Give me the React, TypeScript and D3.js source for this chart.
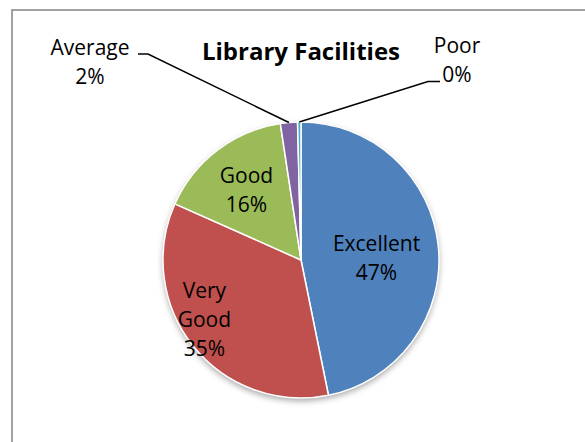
import React from "react";
import * as d3 from "d3";

const categories = ["Excellent", "Very Good", "Good", "Average", "Poor"];
const values = [47, 35, 16, 2, 0.4];
const colors = ["#4F81BD", "#C0504D", "#9BBB59", "#8064A2", "#4BACC6"];
const title = "Library Facilities";

// label layout (style constants, not data)
const insideLines: Record<string, string[]> = {
  Excellent: ["Excellent"],
  "Very Good": ["Very", "Good"],
  Good: ["Good"],
};
const insideRadius: Record<string, number> = { Excellent: 0.55, "Very Good": 0.8, Good: 0.64 };
const insideNudge: Record<string, [number, number]> = {
  Excellent: [0, 6],
  "Very Good": [-10.5, -10],
  Good: [-1, 0],
};
const outsideLabel: Record<string, { x: number; y: number; side: number }> = {
  Average: { x: 90, y: 55, side: -1 },
  Poor: { x: 457, y: 53, side: 1 },
};

const W = 585;
const H = 442;
const cx = 301;
const cy = 260;
const R = 138;
const FONT = "'Open Sans', sans-serif";
const LH = 29;

export default function App() {
  const total = d3.sum(values);
  const data = categories.map((c, i) => ({ c, v: values[i], color: colors[i] }));
  const pie = d3
    .pie<{ c: string; v: number; color: string }>()
    .sort(null)
    .value((d) => d.v)
    .startAngle(0)
    .endAngle(2 * Math.PI);
  const arcs = pie(data);
  const arc = d3.arc<d3.PieArcDatum<any>>().innerRadius(0).outerRadius(R);
  const pct = (v: number) => `${Math.round((v / total) * 100)}%`;

  return (
    <svg
      width={W}
      height={H}
      style={{ position: "absolute", left: 0, top: 0, background: "#fff" }}
      fontFamily={FONT}
    >
      <defs>
        <filter id="shadow" x="-20%" y="-20%" width="140%" height="140%">
          <feDropShadow dx="0" dy="3" stdDeviation="3" floodColor="#000" floodOpacity="0.35" />
        </filter>
      </defs>
      <rect x={12} y={10} width={W} height={H} fill="#fff" stroke="#8a8a8a" strokeWidth={1.6} />
      <text x={301} y={59.5} textAnchor="middle" fontSize={24} fontWeight="bold" fill="#000">
        {title}
      </text>
      <g transform={`translate(${cx},${cy})`}>
        <circle r={R} fill="#fff" filter="url(#shadow)" />
        {arcs.map((a) => (
          <path key={a.data.c} d={arc(a) as string} fill={a.data.color} stroke="#fff" strokeWidth={1.5} />
        ))}
      </g>
      {arcs.map((a) => {
        const c = a.data.c;
        if (insideLines[c]) {
          const k = insideRadius[c] * R;
          const [lx, ly] = d3.arc<any>().innerRadius(k).outerRadius(k).centroid(a as any);
          const [nx, ny] = insideNudge[c];
          const lines = [...insideLines[c], pct(a.data.v)];
          const y0 = cy + ly - ((lines.length - 1) * LH) / 2 + 7.5 + ny;
          return (
            <text key={c} textAnchor="middle" fontSize={21} fill="#000">
              {lines.map((t, i) => (
                <tspan key={i} x={cx + lx + nx} y={y0 + i * LH}>
                  {t}
                </tspan>
              ))}
            </text>
          );
        }
        const o = outsideLabel[c];
        const [ex, ey] = d3.arc<any>().innerRadius(R).outerRadius(R).centroid(a as any);
        const px = cx + ex;
        const py = cy + ey;
        const lineY = o.side < 0 ? o.y - 1 : o.y + LH - 0.5;
        const hx0 = o.side < 0 ? o.x + 48 : o.x - 17;
        const hx1 = o.side < 0 ? hx0 + 10 : hx0 - 12;
        return (
          <g key={c}>
            <polyline
              points={`${hx0},${lineY} ${hx1},${lineY} ${px},${py}`}
              fill="none"
              stroke="#000"
              strokeWidth={1.5}
            />
            <text textAnchor="middle" fontSize={21} fill="#000">
              <tspan x={o.x} y={o.y}>
                {c}
              </tspan>
              <tspan x={o.x} y={o.y + LH}>
                {pct(a.data.v)}
              </tspan>
            </text>
          </g>
        );
      })}
    </svg>
  );
}
